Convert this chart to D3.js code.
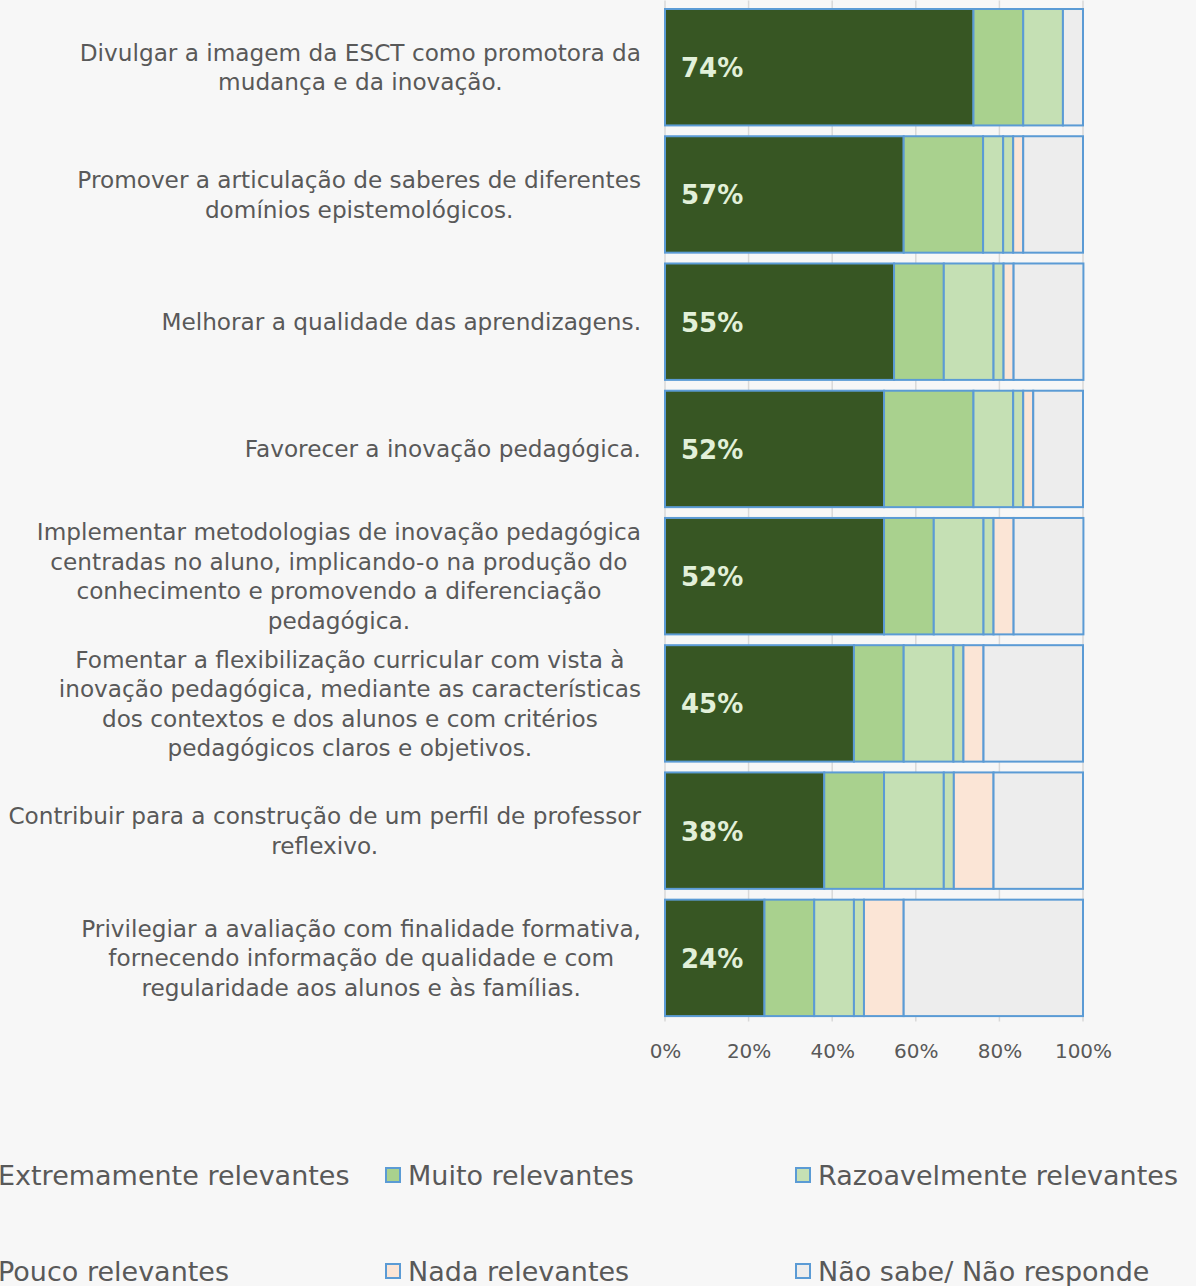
<!DOCTYPE html>
<html>
<head>
<meta charset="utf-8">
<script src="https://cdn.jsdelivr.net/npm/d3@7"></script>
<style>
  body { margin: 0; background: #f7f7f7; }
  svg { display: block; }
  text { font-family: "DejaVu Sans", sans-serif; fill: #595959; }
</style>
</head>
<body>
<div id="wrapper"></div>
<script>
// 1. Data (percent of answers)
const categories = [
  ["Divulgar a imagem da ESCT como promotora da", "mudança e da inovação."],
  ["Promover a articulação de saberes de diferentes", "domínios epistemológicos."],
  ["Melhorar a qualidade das aprendizagens."],
  ["Favorecer a inovação pedagógica."],
  ["Implementar metodologias de inovação pedagógica", "centradas no aluno, implicando-o na produção do", "conhecimento e promovendo a diferenciação", "pedagógica."],
  ["Fomentar a flexibilização curricular com vista à", "inovação pedagógica, mediante as características", "dos contextos e dos alunos e com critérios", "pedagógicos claros e objetivos."],
  ["Contribuir para a construção de um perfil de professor", "reflexivo."],
  ["Privilegiar a avaliação com finalidade formativa,", "fornecendo informação de qualidade e com", "regularidade aos alunos e às famílias."]
]
const seriesNames = ["Extremamente relevantes", "Muito relevantes", "Razoavelmente relevantes",
  "Pouco relevantes", "Nada relevantes", "Não sabe/ Não responde"]
const extremamente = [73.8, 57.1, 54.8, 52.4, 52.4, 45.2, 38.1, 23.8]
const muito        = [11.9, 19.0, 11.9, 21.4, 11.9, 11.9, 14.3, 11.9]
const razoavel     = [9.5, 4.8, 11.9, 9.5, 11.9, 11.9, 14.3, 9.5]
const pouco        = [0, 2.4, 2.4, 2.4, 2.4, 2.4, 2.4, 2.4]
const nada         = [0, 2.4, 2.4, 2.4, 4.8, 4.8, 9.5, 9.5]
const naoSabe      = [4.8, 14.3, 16.7, 11.9, 16.7, 23.8, 21.4, 42.9]
const xTicks = [0, 20, 40, 60, 80, 100]

const colors = ["#375623", "#a9d18e", "#c5e0b4", "#c5e0b4", "#fbe5d6", "#ededed"]

// build rows for d3.stack
const keys = d3.range(seriesNames.length)
const allSeries = [extremamente, muito, razoavel, pouco, nada, naoSabe]
const rows = categories.map((c, i) => {
  const row = { index: i }
  keys.forEach(k => row[k] = allSeries[k][i])
  return row
})

// 2. Dimensions
const dimensions = {
  width: 1196,
  height: 1286,
  plotLeft: 665,
  plotRight: 1083,
  plotTop: 3.6,
  plotBottom: 1021.5,
}

// 3. Canvas
const svg = d3.select("#wrapper").append("svg")
  .attr("width", dimensions.width)
  .attr("height", dimensions.height)

svg.append("rect")
  .attr("width", dimensions.width)
  .attr("height", dimensions.height)
  .attr("fill", "#f7f7f7")

// 4. Scales
const xScale = d3.scaleLinear()
  .domain([0, 100])
  .range([dimensions.plotLeft, dimensions.plotRight])

const yScale = d3.scaleBand()
  .domain(d3.range(categories.length))
  .range([dimensions.plotTop, dimensions.plotBottom])
  .paddingInner(0.085)
  .paddingOuter(0.0425)

const colorScale = d3.scaleOrdinal().domain(keys).range(colors)

// 5. Gridlines + axis
svg.append("g")
  .selectAll("line")
  .data(xTicks)
  .enter().append("line")
  .attr("x1", d => xScale(d))
  .attr("x2", d => xScale(d))
  .attr("y1", dimensions.plotTop - 3)
  .attr("y2", dimensions.plotBottom)
  .attr("stroke", "#d9d9d9")
  .attr("stroke-width", 1.5)

const xAxis = svg.append("g")
  .attr("transform", `translate(0, ${dimensions.plotBottom})`)
  .call(d3.axisBottom(xScale).tickValues(xTicks).tickSize(0).tickPadding(22).tickFormat(d => d + "%"))
xAxis.select(".domain").remove()
xAxis.selectAll("text")
  .style("font-size", "20px")
  .style("font-family", "DejaVu Sans, sans-serif")
  .attr("fill", "#595959")

// 6. Bars
const stacked = d3.stack().keys(keys)(rows)

svg.append("g")
  .selectAll("g")
  .data(stacked)
  .enter().append("g")
  .attr("fill", d => colorScale(d.key))
  .selectAll("rect")
  .data(d => d.filter(s => s[1] - s[0] > 0))
  .enter().append("rect")
  .attr("x", d => xScale(d[0]))
  .attr("width", d => xScale(d[1]) - xScale(d[0]))
  .attr("y", d => yScale(d.data.index))
  .attr("height", yScale.bandwidth())
  .attr("stroke", "#5b9bd5")
  .attr("stroke-width", 2)

// value labels in the dark segment
svg.append("g")
  .selectAll("text")
  .data(extremamente)
  .enter().append("text")
  .attr("x", xScale(0) + 16)
  .attr("y", (d, i) => yScale(i) + yScale.bandwidth() / 2)
  .attr("dy", "0.38em")
  .style("font-size", "26px")
  .style("font-weight", "bold")
  .style("fill", "#e2f0d9")
  .text(d => Math.round(d) + "%")

// 7. Category labels (centred block, right edge at 641)
const lineHeight = 29.5
const labelRight = 641
categories.forEach((lines, i) => {
  const cy = yScale(i) + yScale.bandwidth() / 2
  const t = svg.append("text")
    .attr("text-anchor", "middle")
    .style("font-size", "23.2px")
  lines.forEach((l, j) => {
    t.append("tspan")
      .attr("y", cy + (j - (lines.length - 1) / 2) * lineHeight)
      .attr("dy", "0.36em")
      .text(l)
  })
  const widest = d3.max(t.selectAll("tspan").nodes(), n => n.getComputedTextLength())
  t.selectAll("tspan").attr("x", labelRight - widest / 2)
})

// 8. Legend (first column starts off the left edge, as in the original)
const legendCols = [-24, 386, 796]
const legendRows = [1175, 1271]
const legend = svg.append("g")
  .selectAll("g")
  .data(seriesNames)
  .enter().append("g")
  .attr("transform", (d, i) => `translate(${legendCols[i % 3]}, ${legendRows[Math.floor(i / 3)]})`)

legend.append("rect")
  .attr("x", 0)
  .attr("y", -7)
  .attr("width", 14)
  .attr("height", 14)
  .attr("fill", (d, i) => colorScale(i))
  .attr("stroke", "#5b9bd5")
  .attr("stroke-width", 2)

legend.append("text")
  .attr("x", 22)
  .attr("dy", "0.36em")
  .style("font-size", "27px")
  .text(d => d)
</script>
</body>
</html>
